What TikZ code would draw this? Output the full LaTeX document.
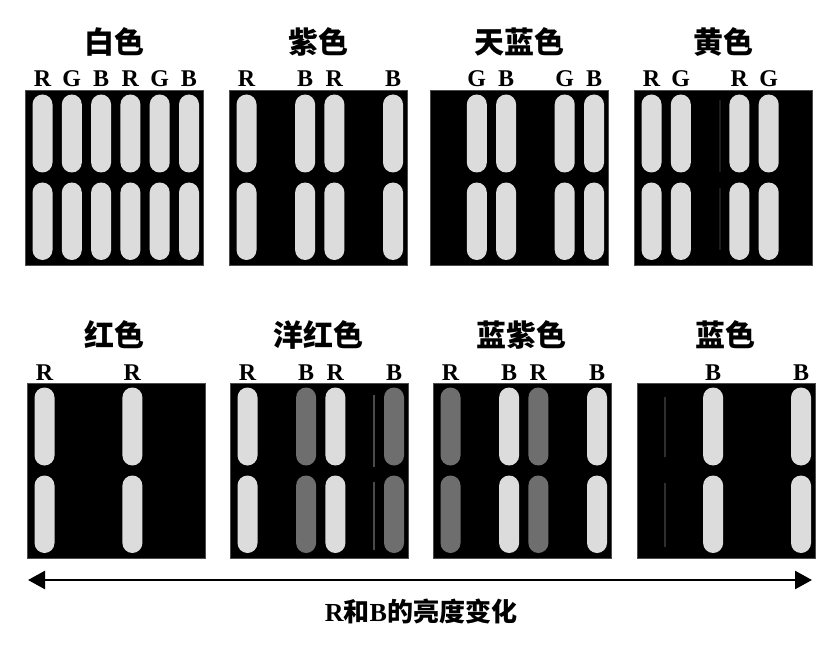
\documentclass[tikz,border=0pt]{standalone}
\usepackage{fontspec}
\setmainfont{Liberation Serif}
\newfontfamily\cjk{Noto Sans CJK SC}
\usetikzlibrary{arrows.meta}
\definecolor{barlight}{HTML}{DCDCDC}
\definecolor{bardim}{HTML}{6E6E6E}
\definecolor{streakA}{HTML}{1C1C1C}
\definecolor{streakB}{HTML}{4A4A4A}
\definecolor{streakC}{HTML}{2E2E2E}
\newcommand\drawpanel[4]{%
  \node[panel] (#1) at (#2,#3) {};
  \foreach \s/\c/\l in {#4} {
    \pgfmathsetmacro\bx{#2+7.5+(\s-1)*29.3}
    \fill[\c, rounded corners=10pt] (\bx,#3+4.5) rectangle ++(20,78);
    \fill[\c, rounded corners=10pt] (\bx,#3+92.5) rectangle ++(20,77.5);
    \node[letter] at (\bx+10,#3-3) {\l};
  }}
\begin{document}
\begin{tikzpicture}[x=1pt,y=-1pt,
  panel/.style={fill=black, draw=black!70, line width=0.6pt, anchor=north west,
    minimum width=178pt, minimum height=175pt, inner sep=0pt, outer sep=0pt},
  letter/.style={anchor=base, inner sep=0pt, font=\fontsize{24}{24}\selectfont\bfseries},
  title/.style={inner sep=0pt, font=\cjk\bfseries\fontsize{30}{30}\selectfont},
  streak/.style={line width=1.4pt}]
\useasboundingbox (0,0) rectangle (835,647);
% top row
\drawpanel{p1}{25}{90}{1/barlight/R,2/barlight/G,3/barlight/B,4/barlight/R,5/barlight/G,6/barlight/B}
\drawpanel{p2}{229}{90}{1/barlight/R,3/barlight/B,4/barlight/R,6/barlight/B}
\drawpanel{p3}{430}{90}{2/barlight/G,3/barlight/B,5/barlight/G,6/barlight/B}
\drawpanel{p4}{634}{90}{1/barlight/R,2/barlight/G,4/barlight/R,5/barlight/G}
% bottom row
\drawpanel{p5}{27}{383}{1/barlight/R,4/barlight/R}
\drawpanel{p6}{230}{383}{1/barlight/R,3/bardim/B,4/barlight/R,6/bardim/B}
\drawpanel{p7}{433}{383}{1/bardim/R,3/barlight/B,4/bardim/R,6/barlight/B}
\drawpanel{p8}{637}{383}{3/barlight/B,6/barlight/B}
% faint streaks
\draw[streak, streakA] (720,100) -- (720,172) (720,188) -- (720,250);
\draw[streak, streakB] (374,395) -- (374,467) (374,482) -- (374,550);
\draw[streak, streakC] (665,397) -- (665,457) (665,483) -- (665,547);
% titles
\node[title] (t1) at (114,42) {白色};
\node[title] (t2) at (318,42) {紫色};
\node[title] (t3) at (519,42) {天蓝色};
\node[title] (t4) at (723,42) {黄色};
\node[title] (t5) at (114,335) {红色};
\node[title] (t6) at (318,335) {洋红色};
\node[title] (t7) at (521,335) {蓝紫色};
\node[title] (t8) at (725,335) {蓝色};
% arrow
\coordinate (al) at (28,580);
\coordinate (ar) at (812,580);
\draw[{Triangle[length=17pt,width=18pt]}-{Triangle[length=17pt,width=18pt]}, line width=2.5pt] (al) -- (ar);
\node[inner sep=0pt, font=\fontsize{26}{26}\selectfont\bfseries] (lab) at (421,611)
  {R{\cjk\bfseries 和}B{\cjk\bfseries 的亮度变化}};
\end{tikzpicture}
\end{document}
